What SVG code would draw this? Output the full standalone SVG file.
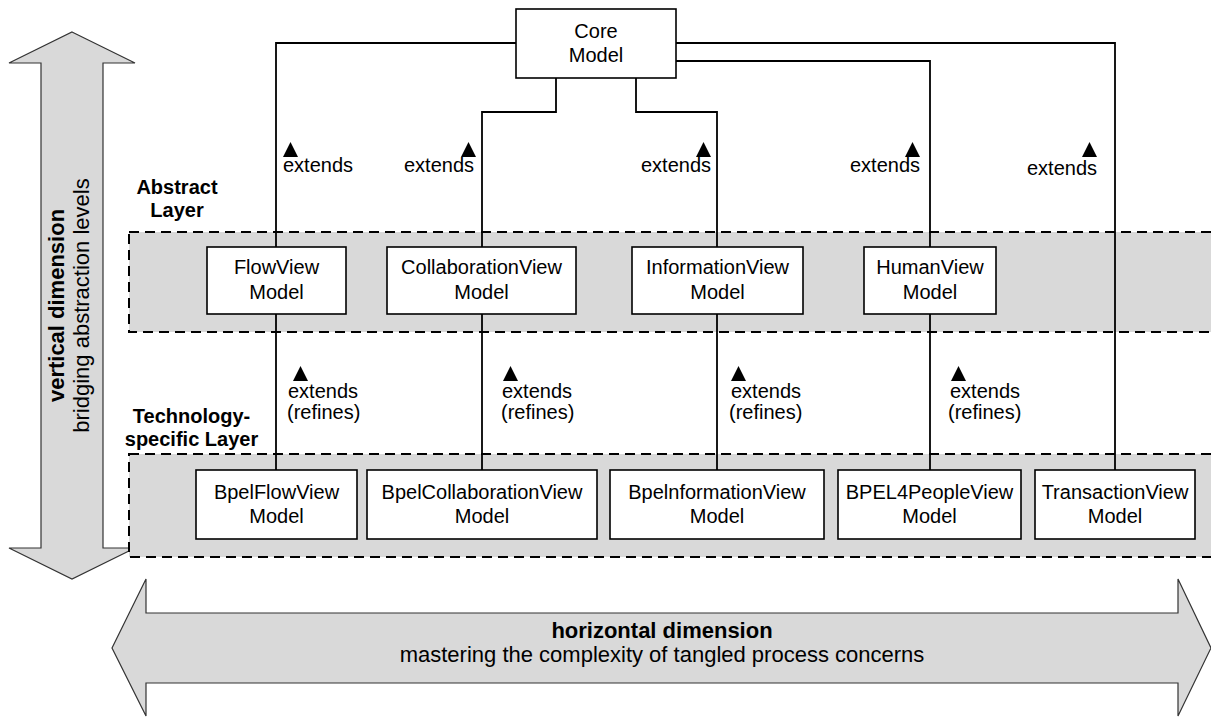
<svg xmlns="http://www.w3.org/2000/svg" width="1211" height="718" viewBox="0 0 1211 718">
<style>
.bg{fill:#ffffff}
.arrow{fill:#d9d9d9;stroke:#333333;stroke-width:1.2}
.layer{fill:#d9d9d9;stroke:#000000;stroke-width:2;stroke-dasharray:10 6}
.node{fill:#ffffff;stroke:#000000;stroke-width:1.6}
.conn{fill:none;stroke:#000000;stroke-width:1.8}
.tri{fill:#000000}
text{font-family:"Liberation Sans",Arial,sans-serif;fill:#000000}
.nt{font-size:20px;text-anchor:middle}
.lbl{font-size:20px}
.ll{font-size:20px;font-weight:bold;text-anchor:middle}
.dim{font-size:22px;text-anchor:middle}
.b{font-weight:bold}
</style>
<rect class="bg" x="0" y="0" width="1211" height="718"/>
<g id="vertical-arrow">
<polygon class="arrow" points="72,32 135,63 103,63 103,548 135,548 72,579 9,548 41,548 41,63 9,63"/>
<text class="dim b" transform="translate(64,305.5) rotate(-90)">vertical dimension</text>
<text class="dim" transform="translate(89,305.5) rotate(-90)">bridging abstraction levels</text>
</g>
<g id="horizontal-arrow">
<polygon class="arrow" points="112,648 146,579 146,613 1178,613 1178,579 1211,648 1178,716 1178,683 146,683 146,716"/>
<text class="dim b" x="662" y="638">horizontal dimension</text>
<text class="dim" x="662" y="662">mastering the complexity of tangled process concerns</text>
</g>
<g id="abstract-layer">
<rect class="layer" x="129" y="232" width="1090" height="100"/>
<text class="ll" x="177" y="194">Abstract</text>
<text class="ll" x="177" y="217">Layer</text>
</g>
<g id="technology-layer">
<rect class="layer" x="129" y="454" width="1090" height="103"/>
<text class="ll" x="191.5" y="423">Technology-</text>
<text class="ll" x="191.5" y="446">specific Layer</text>
</g>
<g id="connectors">
<polyline class="conn" points="516,43 276,43 276,247"/>
<line class="conn" x1="276" y1="314" x2="276" y2="470"/>
<polyline class="conn" points="556,78 556,112 482,112 482,247"/>
<line class="conn" x1="482" y1="314" x2="482" y2="470"/>
<polyline class="conn" points="636,78 636,112 717,112 717,247"/>
<line class="conn" x1="717" y1="314" x2="717" y2="470"/>
<polyline class="conn" points="676,61 930,61 930,247"/>
<line class="conn" x1="930" y1="314" x2="930" y2="470"/>
<polyline class="conn" points="676,43 1115,43 1115,470"/>
<polygon class="tri" points="283,157 298,157 290.5,142"/>
<polygon class="tri" points="461,157 476,157 468.5,142"/>
<polygon class="tri" points="696,157 711,157 703.5,142"/>
<polygon class="tri" points="905,157 920,157 912.5,142"/>
<polygon class="tri" points="1082,157 1097,157 1089.5,142"/>
<text class="lbl" x="283" y="172">extends</text>
<text class="lbl" x="404" y="172">extends</text>
<text class="lbl" x="641" y="172">extends</text>
<text class="lbl" x="850" y="172">extends</text>
<text class="lbl" x="1027" y="175">extends</text>
<polygon class="tri" points="293,381 308,381 300.5,366"/>
<polygon class="tri" points="503,381 518,381 510.5,366"/>
<polygon class="tri" points="731,381 746,381 738.5,366"/>
<polygon class="tri" points="951,381 966,381 958.5,366"/>
<text class="lbl" x="288" y="397.5">extends</text>
<text class="lbl" x="287" y="419">(refines)</text>
<text class="lbl" x="502" y="397.5">extends</text>
<text class="lbl" x="501" y="419">(refines)</text>
<text class="lbl" x="731" y="397.5">extends</text>
<text class="lbl" x="729" y="419">(refines)</text>
<text class="lbl" x="950" y="397.5">extends</text>
<text class="lbl" x="948" y="419">(refines)</text>
</g>
<g id="core-model">
<rect class="node" x="516" y="9" width="160" height="69"/>
<text class="nt" x="596" y="37.5">Core</text>
<text class="nt" x="596" y="62">Model</text>
</g>
<g id="flowview-model">
<rect class="node" x="207" y="247" width="139" height="67"/>
<text class="nt" x="276.5" y="274">FlowView</text>
<text class="nt" x="276.5" y="298.5">Model</text>
</g>
<g id="collaborationview-model">
<rect class="node" x="387" y="247" width="189" height="67"/>
<text class="nt" x="481.5" y="274">CollaborationView</text>
<text class="nt" x="481.5" y="298.5">Model</text>
</g>
<g id="informationview-model">
<rect class="node" x="632" y="247" width="171" height="67"/>
<text class="nt" x="717.5" y="274">InformationView</text>
<text class="nt" x="717.5" y="298.5">Model</text>
</g>
<g id="humanview-model">
<rect class="node" x="864" y="247" width="132" height="67"/>
<text class="nt" x="930" y="274">HumanView</text>
<text class="nt" x="930" y="298.5">Model</text>
</g>
<g id="bpelflowview-model">
<rect class="node" x="196" y="470" width="161" height="69"/>
<text class="nt" x="276.5" y="498.5">BpelFlowView</text>
<text class="nt" x="276.5" y="523">Model</text>
</g>
<g id="bpelcollaborationview-model">
<rect class="node" x="367" y="470" width="230" height="69"/>
<text class="nt" x="482" y="498.5">BpelCollaborationView</text>
<text class="nt" x="482" y="523">Model</text>
</g>
<g id="bpelinformationview-model">
<rect class="node" x="610" y="470" width="214" height="69"/>
<text class="nt" x="717" y="498.5">BpelnformationView</text>
<text class="nt" x="717" y="523">Model</text>
</g>
<g id="bpel4peopleview-model">
<rect class="node" x="838" y="470" width="183" height="69"/>
<text class="nt" x="929.5" y="498.5">BPEL4PeopleView</text>
<text class="nt" x="929.5" y="523">Model</text>
</g>
<g id="transactionview-model">
<rect class="node" x="1035" y="470" width="160" height="69"/>
<text class="nt" x="1115" y="498.5">TransactionView</text>
<text class="nt" x="1115" y="523">Model</text>
</g>
</svg>
